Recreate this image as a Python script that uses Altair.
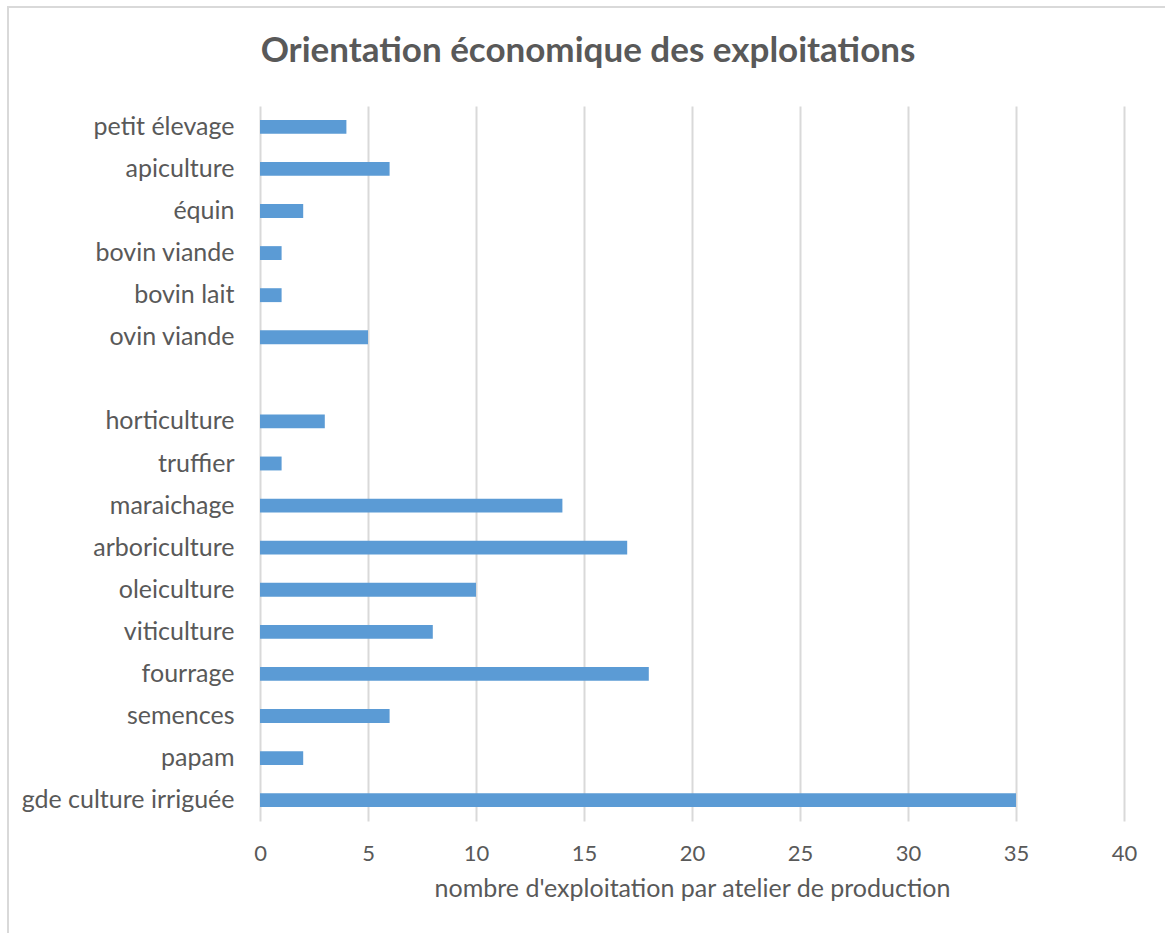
import altair as alt
import pandas as pd

categories = ["petit élevage", "apiculture", "équin", "bovin viande", "bovin lait",
              "ovin viande", " ", "horticulture", "truffier", "maraichage",
              "arboriculture", "oleiculture", "viticulture", "fourrage", "semences",
              "papam", "gde culture irriguée"]
values = [4, 6, 2, 1, 1, 5, None, 3, 1, 14, 17, 10, 8, 18, 6, 2, 35]
x_ticks = [0, 5, 10, 15, 20, 25, 30, 35, 40]
title_text = "Orientation économique des exploitations"

df = pd.DataFrame({"cat": categories, "val": values})

FONT = "Lato"
GREY = "#595959"

bars = alt.Chart(df).mark_bar(color="#5B9BD5").encode(
    x=alt.X("val:Q",
            scale=alt.Scale(domain=[0, 40], nice=False, zero=True),
            axis=alt.Axis(values=x_ticks, title="nombre d'exploitation par atelier de production",
                          grid=True, gridColor="#D9D9D9", gridWidth=2, domain=False, ticks=False,
                          labelFlush=False,
                          labelFont=FONT, labelFontSize=22, labelColor=GREY, labelPadding=22,
                          titleFont=FONT, titleFontSize=25, titleColor=GREY, titleFontWeight="normal",
                          titlePadding=12)),
    y=alt.Y("cat:N",
            scale=alt.Scale(domain=categories, paddingInner=0.67, paddingOuter=0.33),
            sort=categories,
            axis=alt.Axis(title=None, domain=False, ticks=False, grid=False,
                          labelFont=FONT, labelFontSize=25, labelColor=GREY, labelPadding=26,
                          labelLimit=400)),
)

one = pd.DataFrame({"t": [title_text]})

frame = alt.Chart(one).mark_rect(
    fill=None, stroke="#D9D9D9", strokeWidth=2
).encode(
    x=alt.value(8 - 260), x2=alt.value(1180 - 260),
    y=alt.value(7 - 106), y2=alt.value(945 - 106),
)

title = alt.Chart(one).mark_text(
    font=FONT, fontSize=35, fontWeight="bold", color=GREY, align="center", baseline="middle"
).encode(
    text="t:N", x=alt.value(588 - 260), y=alt.value(51 - 106),
)

chart = alt.layer(frame, bars, title).properties(
    width=864, height=715,
    padding={"left": 260, "top": 106, "right": 41, "bottom": 112},
    autosize="none",
).configure(background="white").configure_view(strokeWidth=0, stroke="transparent")

chart.save("out.html", embed_options={"renderer": "svg", "actions": False})
